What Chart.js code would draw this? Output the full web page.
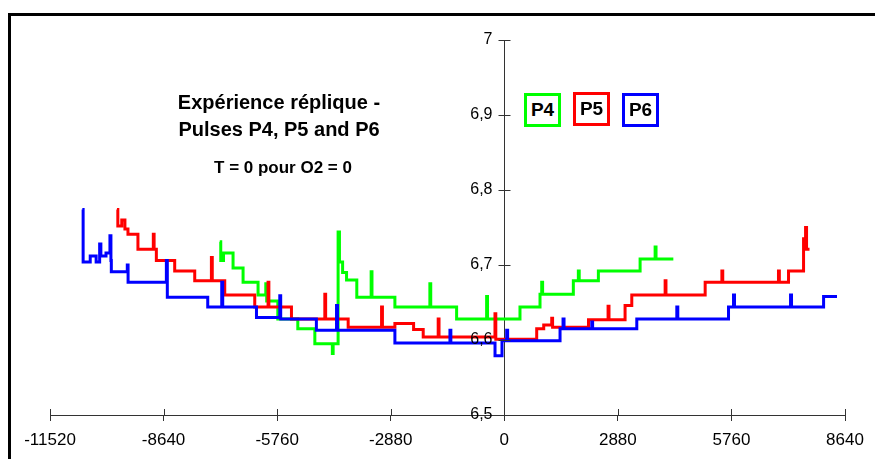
<!DOCTYPE html>
<html>
<head>
<meta charset="utf-8">
<script src="https://cdn.jsdelivr.net/npm/chart.js@4.4.1/dist/chart.umd.min.js"></script>
<style>
  body { margin: 0; background: #fff; }
  #wrap { position: relative; width: 875px; height: 459px; overflow: hidden; font-family: 'Liberation Sans', Arial, sans-serif; }
  #frame { position: absolute; left: 8px; top: 13px; width: 900px; height: 500px; border-left: 3px solid #000; border-top: 3px solid #000; }
  canvas { position: absolute; left: 0; top: 0; }
  .note { position: absolute; font-weight: bold; color: #000; text-align: center; white-space: nowrap; }
  .tag { position: absolute; box-sizing: border-box; width: 37px; height: 34px; border: 3px solid; font-weight: bold; font-size: 19px; line-height: 28px; text-align: center; background: #fff; }
</style>
</head>
<body>
<div id="wrap">
  <div id="frame"></div>
  <canvas id="myChart" width="875" height="459"></canvas>
  <div class="note" style="left:129px; top:89px; width:300px; font-size:20px; line-height:27px;">Expérience réplique -<br>Pulses P4, P5 and P6</div>
  <div class="note" style="left:133px; top:157px; width:300px; font-size:17px; line-height:22px;">T = 0 pour O2 = 0</div>
  <div class="tag" style="left:524px; top:93px; border-color:#00ff00;">P4</div>
  <div class="tag" style="left:573px; top:92px; border-color:#ff0000;">P5</div>
  <div class="tag" style="left:622px; top:93px; border-color:#0000ff;">P6</div>
</div>
<script>
// x ticks (seconds) and y ticks
var xTicks = [-11520, -8640, -5760, -2880, 0, 2880, 5760, 8640];
var yTicks = [6.5, 6.6, 6.7, 6.8, 6.9, 7];

// P4 (green) - each value holds from its x until the next x
var p4X = [-7215, -7190, -7120, -6878, -6624, -6244, -6048, -6025, -5743, -5236, -4804, -4360, -4340, -4214, -4180, -4100, -4000, -3740, -3376, -3355, -2774, -1887, -1865, -1209, -448, -425, 398, 906, 949, 972, 1751, 1878, 1900, 2386, 3444, 3825, 3848, 4249];
var p4Y = [6.731, 6.706, 6.716, 6.696, 6.677, 6.660, 6.675, 6.652, 6.628, 6.615, 6.595, 6.582, 6.595, 6.744, 6.704, 6.690, 6.680, 6.657, 6.691, 6.657, 6.644, 6.675, 6.644, 6.628, 6.658, 6.628, 6.644, 6.661, 6.677, 6.661, 6.679, 6.692, 6.679, 6.692, 6.708, 6.724, 6.708, 6.706];

// P5 (red)
var p5X = [-9822, -9800, -9700, -9620, -9543, -9290, -8900, -8880, -8823, -8358, -7850, -7427, -7405, -7089, -6328, -5990, -5970, -5397, -4551, -4530, -3959, -3112, -3090, -2774, -2300, -2056, -1676, -1655, -236, -215, 822, 1000, 1203, 1225, 2135, 2632, 2655, 3063, 3233, 4079, 4100, 5094, 5518, 5540, 6953, 6975, 7208, 7589, 7640, 7665, 7740];
var p5Y = [6.774, 6.752, 6.760, 6.748, 6.741, 6.721, 6.741, 6.721, 6.706, 6.692, 6.679, 6.710, 6.679, 6.660, 6.644, 6.677, 6.644, 6.628, 6.661, 6.628, 6.617, 6.644, 6.617, 6.622, 6.614, 6.604, 6.628, 6.604, 6.635, 6.601, 6.615, 6.620, 6.629, 6.617, 6.627, 6.645, 6.627, 6.646, 6.660, 6.679, 6.660, 6.677, 6.692, 6.677, 6.692, 6.677, 6.692, 6.735, 6.750, 6.721, 6.721];

// P6 (blue)
var p6X = [-10700, -10680, -10500, -10350, -10261, -10230, -10100, -10000, -9975, -9965, -9560, -9540, -8569, -8545, -7520, -7165, -7140, -6284, -5693, -5670, -4765, -4254, -4230, -2774, -1378, -1355, -235, -58, 61, 85, 1414, 1490, 1515, 2218, 2240, 3360, 4375, 4400, 5686, 5813, 5838, 7259, 7284, 8097, 8437];
var p6Y = [6.774, 6.704, 6.712, 6.704, 6.728, 6.712, 6.716, 6.739, 6.706, 6.691, 6.700, 6.677, 6.706, 6.657, 6.644, 6.677, 6.644, 6.630, 6.659, 6.628, 6.613, 6.646, 6.613, 6.596, 6.613, 6.596, 6.579, 6.599, 6.613, 6.599, 6.615, 6.628, 6.615, 6.624, 6.615, 6.628, 6.644, 6.628, 6.644, 6.660, 6.644, 6.660, 6.644, 6.658, 6.658];

function pts(xs, ys) {
    return xs.map(function(x, i) { return { x: x, y: ys[i] }; });
}

function yLabel(v) {
    return Math.abs(v - 7) < 1e-9 ? '7' : v.toFixed(1).replace('.', ',');
}

// y axis sits at x = 0: cross ticks and labels on its left,
// plus the inner half of the x axis cross ticks
var crossTicks = {
    id: 'crossTicks',
    afterDraw: function(chart) {
        var ctx = chart.ctx, xs = chart.scales.x, ys = chart.scales.y;
        var x0 = Math.round(xs.getPixelForValue(0)) + 0.5;
        var yb = ys.getPixelForValue(6.5);
        ctx.save();
        ctx.strokeStyle = '#333';
        ctx.lineWidth = 1;
        ctx.beginPath();
        xTicks.forEach(function(v) {
            var px = Math.round(xs.getPixelForValue(v)) + 0.5;
            ctx.moveTo(px, yb - 6);
            ctx.lineTo(px, yb);
        });
        yTicks.forEach(function(v) {
            var py = Math.round(ys.getPixelForValue(v)) + 0.5;
            ctx.moveTo(x0 - 6, py);
            ctx.lineTo(x0 + 6, py);
        });
        ctx.stroke();
        ctx.fillStyle = '#000';
        ctx.font = "16px 'Liberation Sans', Arial, sans-serif";
        ctx.textAlign = 'right';
        ctx.textBaseline = 'middle';
        yTicks.forEach(function(v) {
            ctx.fillText(yLabel(v), x0 - 12, ys.getPixelForValue(v));
        });
        ctx.restore();
    }
};

Chart.defaults.font.family = "'Liberation Sans', Arial, sans-serif";
Chart.defaults.color = '#000';

var ctx = document.getElementById('myChart').getContext('2d');
var chart = new Chart(ctx, {
    type: 'line',
    data: {
        datasets: [
            { label: 'P6', data: pts(p6X, p6Y), borderColor: '#0000ff', order: 0 },
            { label: 'P5', data: pts(p5X, p5Y), borderColor: '#ff0000', order: 1 },
            { label: 'P4', data: pts(p4X, p4Y), borderColor: '#00ff00', order: 2 }
        ]
    },
    options: {
        responsive: false,
        animation: false,
        parsing: false,
        layout: { padding: { left: 50, right: 30, top: 40, bottom: 0 } },
        elements: {
            line: { borderWidth: 3, stepped: 'before', tension: 0, fill: false },
            point: { radius: 0 }
        },
        plugins: {
            legend: { display: false },
            title: { display: false },
            tooltip: { enabled: false }
        },
        scales: {
            x: {
                type: 'linear',
                position: 'bottom',
                min: -11520,
                max: 8640,
                afterBuildTicks: function(s) { s.ticks = xTicks.map(function(v) { return { value: v }; }); },
                afterFit: function(s) { s.height = 44; },
                ticks: { font: { size: 17 }, padding: 9, maxRotation: 0, callback: function(v) { return String(v); } },
                grid: { drawOnChartArea: false, tickLength: 6, color: '#333' },
                border: { color: '#333', width: 1 }
            },
            y: {
                type: 'linear',
                position: { x: 0 },
                min: 6.5,
                max: 7,
                afterBuildTicks: function(s) { s.ticks = yTicks.map(function(v) { return { value: v }; }); },
                ticks: { display: false },
                grid: { drawOnChartArea: false, drawTicks: false },
                border: { color: '#333', width: 1 }
            }
        }
    },
    plugins: [crossTicks]
});
</script>
</body>
</html>
